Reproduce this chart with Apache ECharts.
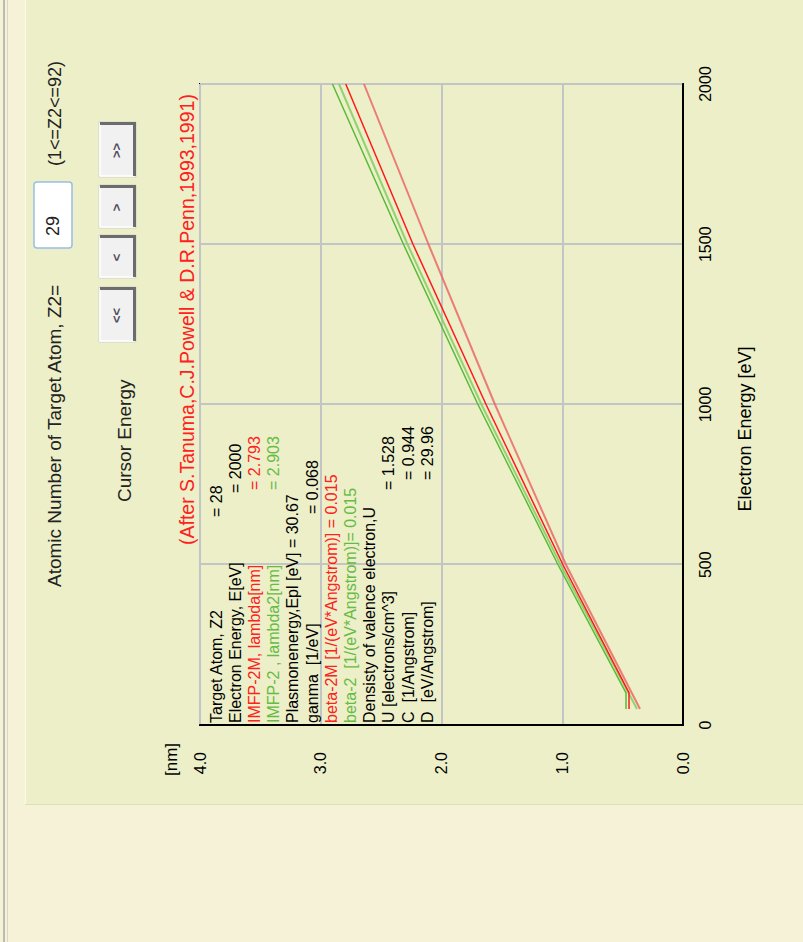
<!DOCTYPE html>
<html>
<head>
<meta charset="utf-8">
<script src="https://cdn.jsdelivr.net/npm/echarts@6/dist/echarts.min.js"></script>
<style>
  html, body { margin: 0; padding: 0; width: 803px; height: 942px; overflow: hidden; background: #f6f2d8; }
  /* the panel is laid out landscape and turned a quarter turn counter-clockwise */
  #stage { position: absolute; left: 0; top: 0; width: 942px; height: 803px;
           transform-origin: 0 0; transform: translate(0, 942px) rotate(-90deg); }
</style>
</head>
<body>
<div id="stage"></div>
<script>
// Electron energy [eV] and inelastic mean free path [nm]
const energyZ28      = [50, 100, 500, 1000, 1500, 2000];
const imfp2M_Z28     = [0.447, 0.447, 0.994, 1.631, 2.236, 2.793];
const imfp2_Z28      = [0.472, 0.472, 1.035, 1.698, 2.315, 2.903];
const energyZ29      = [50, 500, 1000, 1500, 2000];
const imfp2M_Z29     = [0.356, 0.969, 1.557, 2.108, 2.642];
const imfp2_Z29      = [0.381, 1.014, 1.669, 2.282, 2.849];

// read-out block at the cursor energy: [label, value, value column x, colour]
const BLACK = '#000000', RED = '#ff2020', GREEN = '#66bb44';
const readout = [
  ['Target Atom, Z2',                   '= 28',    425, BLACK],
  ['Electron Energy, E[eV]',            '= 2000',  449, BLACK],
  ['IMFP-2M, lambda[nm]',               '= 2.793', 452, RED],
  ['IMFP-2 , lambda2[nm]',              '= 2.903', 452, GREEN],
  ['Plasmonenergy,Epl [eV] = 30.67',    '',        0,   BLACK],
  ['ganma  [1/eV]',                     '= 0.068', 428, BLACK],
  ['beta-2M [1/(eV*Angstrom)] = 0.015', '',        0,   RED],
  ['beta-2  [1/(eV*Angstrom)]= 0.015',  '',        0,   GREEN],
  ['Densisty of valence electron,U',    '',        0,   BLACK],
  ['U [electrons/cm^3]',                '= 1.528', 452, BLACK],
  ['C  [1/Angstrom]',                   '= 0.944', 462, BLACK],
  ['D  [eV/Angstrom]',                  '= 29.96', 462, BLACK]
];

const FONT = '"Liberation Sans", Arial, Helvetica, sans-serif';
const pairs = (xs, ys) => xs.map((x, i) => [x, ys[i]]);

function text(str, x, y, size, color, align, extra) {
  return Object.assign({
    type: 'text', x: x, y: y, z: 100, silent: true,
    style: { text: str, font: size + 'px ' + FONT, fill: color,
             textAlign: align || 'left', textVerticalAlign: 'middle' }
  }, extra || {});
}

function button(x, w, label) {
  const y = 99, h = 37;
  return {
    type: 'group', z: 100, silent: true,
    children: [
      { type: 'rect', shape: { x: x, y: y, width: w, height: h },
        style: { fill: '#f1f1f1', stroke: '#d2d2cc', lineWidth: 1 } },
      { type: 'polyline', shape: { points: [[x + 1, y + h - 1], [x + 1, y + 1], [x + w - 1, y + 1]] },
        style: { stroke: '#ffffff', lineWidth: 1.5, fill: null } },
      { type: 'polyline', shape: { points: [[x + 1, y + h - 1.5], [x + w - 1.5, y + h - 1.5], [x + w - 1.5, y + 1]] },
        style: { stroke: '#6c6c6c', lineWidth: 3, fill: null } },
      { type: 'text', x: x + w / 2 - 1, y: y + h / 2 - 1,
        style: { text: label, font: 'bold 13px ' + FONT, fill: '#4c4c5a',
                 textAlign: 'center', textVerticalAlign: 'middle' } }
    ]
  };
}

const graphics = [
  // window background and the light panel
  { type: 'rect', z: -100, silent: true, shape: { x: 137, y: 25, width: 805, height: 778 },
    style: { fill: '#ecefc8' } },
  { type: 'line', z: -90, silent: true, shape: { x1: 137, y1: 25.5, x2: 942, y2: 25.5 },
    style: { stroke: '#fbfbe8', lineWidth: 1 } },
  { type: 'line', z: -90, silent: true, shape: { x1: 137.5, y1: 25, x2: 137.5, y2: 803 },
    style: { stroke: '#dcdfb8', lineWidth: 1 } },
  { type: 'line', z: -90, silent: true, shape: { x1: 0, y1: 4, x2: 942, y2: 4 },
    style: { stroke: '#a9a9a2', lineWidth: 1.5 } },
  { type: 'line', z: -90, silent: true, shape: { x1: 0, y1: 7.5, x2: 942, y2: 7.5 },
    style: { stroke: '#d6d6cc', lineWidth: 1 } },

  // controls
  text('Atomic Number of Target Atom, Z2=', 355, 54, 19, '#222222'),
  { type: 'rect', z: 100, silent: true, shape: { x: 694, y: 34, width: 66, height: 38, r: 3 },
    style: { fill: '#ffffff', stroke: '#98bfe3', lineWidth: 1.5 } },
  text('29', 706, 53, 18, '#222222'),
  text('(1<=Z2<=92)', 776, 55, 18, '#222222'),
  text('Cursor Energy', 440, 124, 19, '#222222'),
  button(600, 55, '<<'),
  button(664, 43, '<'),
  button(714, 43, '>'),
  button(765, 55, '>>'),

  // chart captions
  text('(After S.Tanuma,C.J.Powell & D.R.Penn,1993,1991)', 397, 187, 19.5, RED),
  text('[nm]', 166, 171, 17, BLACK),
  text('Electron Energy [eV]', 513, 745, 18, BLACK, 'center')
];

readout.forEach((row, i) => {
  const y = 216 + i * 19.2;
  graphics.push(text(row[0], 219, y, 16, row[3]));
  if (row[1]) graphics.push(text(row[1], row[2], y, 16, row[3]));
});

const chart = echarts.init(document.getElementById('stage'), null, { renderer: 'svg', width: 942, height: 803 });

const splitStyle = { color: '#c3c4c6', width: 2 };

chart.setOption({
  backgroundColor: '#f6f2d8',
  animation: false,
  grid: { left: 217, top: 200, width: 641, height: 483, show: true,
          borderColor: '#000', borderWidth: 2, backgroundColor: 'rgba(0,0,0,0)' },
  xAxis: {
    type: 'value', min: 0, max: 2000, interval: 500,
    axisLine: { show: true, onZero: false, lineStyle: { color: '#000', width: 2 } },
    axisTick: { show: false },
    axisLabel: { color: '#000', fontSize: 16, fontFamily: FONT, margin: 14,
                 formatter: v => String(v) },
    splitLine: { show: true, lineStyle: splitStyle }
  },
  yAxis: {
    type: 'value', min: 0, max: 4, interval: 1,
    axisLine: { show: true, onZero: false, lineStyle: { color: '#000', width: 2 } },
    axisTick: { show: false },
    axisLabel: { color: '#000', fontSize: 16, fontFamily: FONT, margin: 27,
                 formatter: v => v.toFixed(1) },
    splitLine: { show: true, lineStyle: splitStyle }
  },
  series: [
    { name: 'IMFP-2M (Z2=29)', type: 'line', data: pairs(energyZ29, imfp2M_Z29),
      showSymbol: false, silent: true, lineStyle: { color: 'rgba(236,92,92,0.78)', width: 2 } },
    { name: 'IMFP-2 (Z2=29)', type: 'line', data: pairs(energyZ29, imfp2_Z29),
      showSymbol: false, silent: true, lineStyle: { color: 'rgba(132,204,100,0.85)', width: 2 } },
    { name: 'IMFP-2 (Z2=28)', type: 'line', data: pairs(energyZ28, imfp2_Z28),
      showSymbol: false, silent: true, lineStyle: { color: '#58bb38', width: 1.5 } },
    { name: 'IMFP-2M (Z2=28)', type: 'line', data: pairs(energyZ28, imfp2M_Z28),
      showSymbol: false, silent: true, lineStyle: { color: '#ff1a1a', width: 1.5 } }
  ],
  graphic: graphics
});
</script>
</body>
</html>
